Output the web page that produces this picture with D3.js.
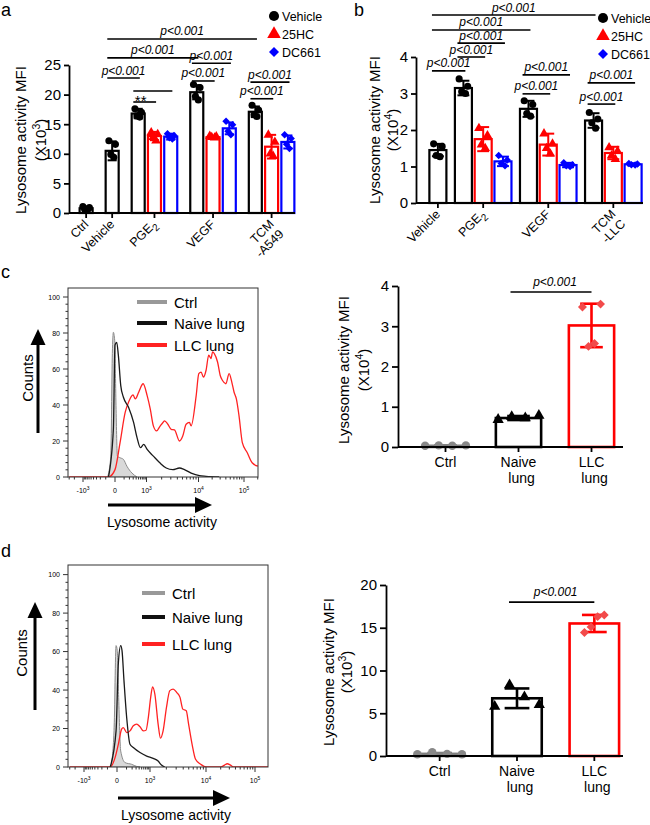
<!DOCTYPE html>
<html>
<head>
<meta charset="utf-8">
<script src="https://cdn.jsdelivr.net/npm/d3@7"></script>
<style>
  body { margin: 0; background: #fff; }
</style>
</head>
<body>
<script>
// ---------------- data ----------------

// panel a  (MFI x10^3)
const aGroups = ['Ctrl', 'Vehicle', 'PGE_2', 'VEGF', 'TCM|-A549'];
const aSeries = ['Vehicle', '25HC', 'DC661'];
const aTicks = [0, 5, 10, 15, 20, 25];
const aVehMean = [0.8, 10.5, 16.8, 20.4, 17.1];
const aVehSD = [0.3, 1.6, 0.8, 1.2, 0.9];
const aVehPts = [[1.1, 0.9, 0.6, 0.6], [12.2, 11.6, 9.9, 9.4], [17.6, 17.0, 16.4, 16.2], [21.7, 21.2, 19.7, 19.1], [18.2, 17.4, 16.6, 16.3]];
const a25Mean = [null, null, 13.0, 12.8, 11.2];
const a25SD = [null, null, 0.7, 0.15, 2.0];
const a25Pts = [null, null, [13.6, 13.3, 12.8, 12.2], [13.0, 12.9, 12.8, 12.7], [13.2, 12.0, 10.0, 9.6]];
const aDCMean = [null, null, 12.9, 14.3, 12.0];
const aDCSD = [null, null, 0.5, 1.0, 1.1];
const aDCPts = [null, null, [13.4, 13.1, 12.7, 12.5], [15.5, 14.9, 13.8, 13.2], [13.2, 12.6, 11.6, 10.9]];
// [group, series] of both ends, height in data units
const aBrackets = [
  { from: [1, 0], to: [4, 0], y: 29.4, label: 'p<0.001' },
  { from: [1, 0], to: [3, 0], y: 26.2, label: 'p<0.001' },
  { from: [3, 0], to: [3, 2], y: 25.3, label: 'p<0.001' },
  { from: [1, 0], to: [2, 0], y: 22.8, label: 'p<0.001' },
  { from: [3, 0], to: [3, 1], y: 22.3, label: 'p<0.001' },
  { from: [4, 0], to: [4, 2], y: 22.1, label: 'p<0.001' },
  { from: [4, 0], to: [4, 1], y: 19.3, label: 'p<0.001' },
  { from: [2, 0], to: [2, 2], y: 20.6, label: '' },
  { from: [2, 0], to: [2, 1], y: 18.75, label: '**' }
];

// panel b  (MFI x10^4)
const bGroups = ['Vehicle', 'PGE_2', 'VEGF', 'TCM|-LLC'];
const bTicks = [0, 1, 2, 3, 4];
const bVehMean = [1.45, 3.15, 2.58, 2.26];
const bVehSD = [0.17, 0.2, 0.22, 0.2];
const bVehPts = [[1.62, 1.55, 1.3, 1.27], [3.4, 3.2, 3.05, 3.0], [2.8, 2.7, 2.45, 2.38], [2.48, 2.3, 2.2, 2.05]];
const b25Mean = [null, 1.75, 1.6, 1.37];
const b25SD = [null, 0.33, 0.3, 0.17];
const b25Pts = [null, [2.05, 1.85, 1.6, 1.5], [1.9, 1.62, 1.5, 1.35], [1.52, 1.42, 1.3, 1.2]];
const bDCMean = [null, 1.14, 1.04, 1.06];
const bDCSD = [null, 0.13, 0.06, 0.03];
const bDCPts = [null, [1.3, 1.18, 1.08, 1.02], [1.1, 1.05, 1.02, 1.0], [1.08, 1.07, 1.05, 1.04]];
const bBrackets = [
  { from: [0, 0], to: [3, 0], y: 5.15, label: 'p<0.001' },
  { from: [0, 0], to: [2, 0], y: 4.74, label: 'p<0.001' },
  { from: [1, 0], to: [1, 2], y: 4.38, label: 'p<0.001' },
  { from: [1, 0], to: [1, 1], y: 4.0, label: 'p<0.001' },
  { from: [0, 0], to: [1, 0], y: 3.62, label: 'p<0.001' },
  { from: [2, 0], to: [2, 2], y: 3.51, label: 'p<0.001' },
  { from: [2, 0], to: [2, 1], y: 2.99, label: 'p<0.001' },
  { from: [3, 0], to: [3, 2], y: 3.29, label: 'p<0.001' },
  { from: [3, 0], to: [3, 1], y: 2.71, label: 'p<0.001' }
];

// histograms: [intensity, count]
const histTickVals = [-1000, 0, 1000, 10000, 100000];
const histTickLabels = [['-10', '3'], ['0', ''], ['10', '3'], ['10', '4'], ['10', '5']];
const histYTicks = [0, 20, 40, 60, 80, 100];
const histNames = ['Ctrl', 'Naive lung', 'LLC lung'];

const cCtrlCurve = [[-75, 0], [-37, 11.6], [-22, 68.6], [-13, 80.4], [-2, 75.7], [8, 39.6], [20, 11.6], [47, 10.7], [90, 9.8], [147, 6], [263, 2.2], [435, 0]];
const cNaiveCurve = [[-63, 0], [-13, 26.5], [0, 73.3], [14, 74.8], [29, 67.7], [55, 50.8], [90, 44.3], [180, 38.7], [312, 30.3], [435, 21.9], [592, 16.3], [793, 18.1], [1031, 15.3], [1374, 11.6], [1837, 7.9], [2450, 5], [3280, 4.1], [4383, 5], [5445, 4.1], [7280, 2.2], [10500, 0.75], [14700, 0.4], [28600, 0]];
const cLLCCurve = [[-3000, 0], [-63, 0], [0, 4.1], [47, 19.1], [117, 35.9], [180, 41.5], [293, 45.6], [370, 43.4], [507, 47.1], [751, 51.8], [1031, 45.2], [1190, 37.8], [1374, 28.4], [1592, 25.6], [1837, 28], [2120, 30.3], [2280, 31.2], [2635, 29.3], [3055, 26.5], [3526, 26.2], [4383, 20], [5060, 22.8], [5860, 29.3], [6760, 30.3], [7280, 28.4], [9050, 45.2], [10150, 57.4], [11430, 58.3], [12840, 55.5], [14700, 59.3], [16800, 67.7], [18850, 65.8], [20500, 69.5], [22300, 68.6], [26300, 63.9], [30100, 56.4], [33800, 53.6], [40000, 51.8], [47200, 57.4], [54000, 52.7], [60600, 47.1], [68000, 43.4], [77800, 34], [91900, 19.1], [118000, 13.5], [151000, 7.9], [201000, 6]];

const dCtrlCurve = [[-56, 0], [-24, 18.8], [-7, 63.1], [2, 60.5], [13, 36.2], [31, 8.3], [79, 2.3], [190, 1.4], [318, 0.3], [432, 0]];
const dNaiveCurve = [[-64, 0], [-7, 18.8], [10, 53.6], [31, 63.1], [44, 60.5], [66, 44.9], [102, 25.7], [157, 11.8], [227, 10.1], [432, 7.5], [765, 5.7], [1148, 4.5], [1417, 3.1], [1633, 1], [1874, 0]];
const dLLCCurve = [[-3000, 0], [-64, 0], [-15, 4.9], [10, 11.8], [40, 19.7], [58, 20.5], [102, 17.9], [157, 18.8], [227, 21.4], [318, 22.3], [432, 20.9], [578, 18.8], [722, 19.1], [873, 25.7], [1030, 36.2], [1119, 41.7], [1233, 37.9], [1417, 22.3], [1566, 15], [1748, 18.8], [2012, 31], [2311, 39.7], [2655, 40.5], [3055, 38.8], [3510, 36.2], [3933, 30.1], [4519, 29.2], [4970, 22.3], [5724, 11.8], [6577, 4], [8111, 1.4], [10000, 0], [19950, 0], [24000, 1], [27160, 1.7], [31600, 1], [36800, 0], [300000, 0]];

// panel c / d bar charts
const lungCats = ['Ctrl', 'Naive|lung', 'LLC|lung'];
const cTicks = [0, 1, 2, 3, 4];
const cMean = [0.03, 0.72, 3.02];
const cSD = [0.01, 0.05, 0.54];
const cPts = [[0.03, 0.04, 0.03, 0.04], [0.68, 0.75, 0.72, 0.78], [3.48, 2.5, 2.57, 3.55]];
const dTicks = [0, 5, 10, 15, 20];
const dMean = [0.25, 6.75, 15.5];
const dSD = [0.1, 1.15, 1.0];
const dPts = [[0.2, 0.45, 0.25, 0.2], [5.8, 8.3, 6.9, 6.0], [14.45, 15.1, 16.3, 16.5]];

// ---------------- drawing ----------------
const FONT = '"Liberation Sans", Arial, Helvetica, sans-serif';
const svg = d3.select('body').append('svg')
  .attr('width', 650).attr('height', 825)
  .style('font-family', FONT);
const defs = svg.append('defs');

const seriesColors = ['#000000', '#ff0000', '#0000ff'];
const seriesSymbols = [d3.symbolCircle, d3.symbolTriangle, d3.symbolSquare];
const seriesRot = [0, 0, 45];

// text with a superscript: base, sup, tail
function supText(t, base, sup, tail, size) {
  t.append('tspan').text(base);
  if (sup) {
    t.append('tspan').attr('font-size', size * 0.7).attr('dy', -size * 0.42).text(sup);
    t.append('tspan').attr('dy', size * 0.42).text(tail || '');
  }
}

function yTitle(g, x1, x2, yc, size, sup) {
  g.append('text').attr('transform', `translate(${x1},${yc}) rotate(-90)`)
    .attr('text-anchor', 'middle').attr('font-size', size).text('Lysosome activity MFI');
  const t = g.append('text').attr('transform', `translate(${x2},${yc}) rotate(-90)`)
    .attr('text-anchor', 'middle').attr('font-size', size);
  supText(t, '(X10', sup, ')', size);
}

function styleAxis(ax, size) {
  ax.attr('font-family', FONT).attr('font-size', size);
  ax.select('.domain').attr('stroke-width', 1.8);
  ax.selectAll('.tick line').attr('stroke-width', 1.8);
  ax.selectAll('.tick text').attr('fill', '#000');
}

function groupedChart(p) {
  const g = svg.append('g');
  const y = d3.scaleLinear().domain([0, p.yMax]).range([p.y0, p.yTop]);

  // one unit per bar, extra gap between groups
  const bars = [];
  let pos = -1;
  p.groups.forEach((grp, gi) => {
    let firstInGroup = true;
    p.series.forEach((s, si) => {
      const m = p.means[si][gi];
      if (m == null) return;
      pos += (firstInGroup && gi > 0) ? 1 + p.gap : 1;
      firstInGroup = false;
      bars.push({ gi, si, pos, mean: m, sd: p.sds[si][gi], pts: p.pts[si][gi] });
    });
  });
  const x = d3.scaleLinear().domain([-0.5, pos + 0.5]).range(p.xRange);
  const unit = x(1) - x(0);
  const bw = unit * p.barFrac;
  const cap = bw * 0.7;

  // bars
  g.selectAll('rect.bar').data(bars).join('rect')
    .attr('x', d => x(d.pos) - bw / 2).attr('y', d => y(d.mean))
    .attr('width', bw).attr('height', d => y(0) - y(d.mean))
    .attr('fill', '#fff').attr('stroke', d => seriesColors[d.si]).attr('stroke-width', 2.2);

  // error bars
  const eb = g.selectAll('g.err').data(bars).join('g')
    .attr('stroke', d => seriesColors[d.si]).attr('stroke-width', 2);
  eb.append('line').attr('x1', d => x(d.pos)).attr('x2', d => x(d.pos))
    .attr('y1', d => y(d.mean - d.sd)).attr('y2', d => y(d.mean + d.sd));
  eb.append('line').attr('x1', d => x(d.pos) - cap / 2).attr('x2', d => x(d.pos) + cap / 2)
    .attr('y1', d => y(d.mean + d.sd)).attr('y2', d => y(d.mean + d.sd));
  eb.append('line').attr('x1', d => x(d.pos) - cap / 2).attr('x2', d => x(d.pos) + cap / 2)
    .attr('y1', d => y(d.mean - d.sd)).attr('y2', d => y(d.mean - d.sd));

  // points
  const jit = [-0.25, 0.25, -0.1, 0.12];
  bars.forEach(b => {
    b.pts.forEach((v, i) => {
      g.append('path')
        .attr('d', d3.symbol().type(seriesSymbols[b.si]).size(b.si === 2 ? 28 : 40)())
        .attr('transform', `translate(${x(b.pos) + jit[i] * bw},${y(v)}) rotate(${seriesRot[b.si]})`)
        .attr('fill', seriesColors[b.si]);
    });
  });

  // y axis
  const ax = g.append('g').attr('transform', `translate(${p.axisX},0)`)
    .call(d3.axisLeft(y).tickValues(p.ticks).tickFormat(d3.format('d'))
      .tickSize(5).tickSizeOuter(0).tickPadding(3));
  styleAxis(ax, p.tickFont);
  // x axis line
  g.append('line').attr('x1', p.axisX).attr('x2', p.xEnd).attr('y1', y(0)).attr('y2', y(0))
    .attr('stroke', '#000').attr('stroke-width', 1.8);

  // group ticks + rotated labels
  p.groups.forEach((grp, gi) => {
    const gb = bars.filter(b => b.gi === gi);
    const cx = d3.mean(gb, b => x(b.pos));
    g.append('line').attr('x1', cx).attr('x2', cx).attr('y1', y(0)).attr('y2', y(0) + 5)
      .attr('stroke', '#000').attr('stroke-width', 1.8);
    const t = g.append('text').attr('transform', `translate(${cx + 3},${y(0) + 12}) rotate(-45)`)
      .attr('text-anchor', 'end').attr('font-size', 12.5);
    grp.split('|').forEach((line, li) => {
      const parts = line.split('_');
      t.append('tspan').attr('x', 0).attr('dy', li ? '1.1em' : 0).text(parts[0]);
      if (parts[1]) {
        t.append('tspan').attr('font-size', 10).attr('dy', 4).text(parts[1]);
      }
    });
  });

  // significance brackets
  const find = r => bars.find(b => b.gi === r[0] && b.si === r[1]);
  p.brackets.forEach(bk => {
    const x1 = x(find(bk.from).pos) - 0.3 * unit;
    const x2 = x(find(bk.to).pos) + 0.1 * unit;
    const yy = y(bk.y);
    g.append('line').attr('x1', x1).attr('x2', x2).attr('y1', yy).attr('y2', yy)
      .attr('stroke', '#000').attr('stroke-width', 1.6);
    if (bk.label === '**') {
      g.append('text').attr('x', (x1 + x2) / 2 - 4).attr('y', yy + 3.5).attr('text-anchor', 'middle')
        .attr('font-size', 15).text(bk.label);
    } else if (bk.label) {
      g.append('text').attr('x', (x1 + x2) / 2).attr('y', yy - 3.5).attr('text-anchor', 'middle')
        .attr('font-size', 12).attr('font-style', 'italic').text(bk.label);
    }
  });

  // legend
  p.series.forEach((s, si) => {
    g.append('path')
      .attr('d', d3.symbol().type(seriesSymbols[si]).size(si === 2 ? 50 : 80)())
      .attr('transform', `translate(${p.legendX},${p.legendY[si]}) rotate(${seriesRot[si]})`)
      .attr('fill', seriesColors[si]);
    g.append('text').attr('x', p.legendX + 8).attr('y', p.legendY[si] + 4.5)
      .attr('font-size', 12.5).text(s);
  });

  yTitle(g, p.titleX[0], p.titleX[1], p.titleY, 15, p.sup);
}

groupedChart({
  groups: aGroups, series: aSeries,
  means: [aVehMean, a25Mean, aDCMean], sds: [aVehSD, a25SD, aDCSD], pts: [aVehPts, a25Pts, aDCPts],
  yMax: 25, y0: 213, yTop: 65, ticks: aTicks, tickFont: 15,
  axisX: 69, xEnd: 295, xRange: [78, 296], gap: 0.6, barFrac: 0.8,
  brackets: aBrackets, legendX: 274, legendY: [16, 34, 52],
  titleX: [26, 46], titleY: 140, sup: '3'
});

groupedChart({
  groups: bGroups, series: aSeries,
  means: [bVehMean, b25Mean, bDCMean], sds: [bVehSD, b25SD, bDCSD], pts: [bVehPts, b25Pts, bDCPts],
  yMax: 4, y0: 203, yTop: 57, ticks: bTicks, tickFont: 15,
  axisX: 416, xEnd: 643, xRange: [428, 643], gap: 0.29, barFrac: 0.86,
  brackets: bBrackets, legendX: 603, legendY: [18, 36, 54],
  titleX: [380, 398], titleY: 130, sup: '4'
});

// ---------- flow histograms ----------
const symlog = v => Math.sign(v) * Math.log10(1 + Math.abs(v) / 100);

function histogram(p) {
  const g = svg.append('g');
  const xs = d3.scaleLinear().domain(histTickVals.map(symlog)).range(p.tickPx);
  const X = v => xs(symlog(v));
  const y = d3.scaleLinear().domain([0, 105]).range([p.bottom, p.top]);

  defs.append('clipPath').attr('id', p.id).append('rect')
    .attr('x', p.left).attr('y', p.top).attr('width', p.right - p.left).attr('height', p.bottom - p.top);
  const plot = g.append('g').attr('clip-path', `url(#${p.id})`);

  const line = d3.line().x(d => X(d[0])).y(d => y(d[1])).curve(d3.curveMonotoneX);
  const area = d3.area().x(d => X(d[0])).y0(y(0)).y1(d => y(d[1])).curve(d3.curveMonotoneX);
  plot.append('path').datum(p.ctrl).attr('d', area)
    .attr('fill', '#d9d9d9').attr('stroke', '#8c8c8c').attr('stroke-width', 1);
  plot.append('path').datum(p.llc).attr('d', line)
    .attr('fill', 'none').attr('stroke', '#ff2222').attr('stroke-width', 1.3);
  plot.append('path').datum(p.naive).attr('d', line)
    .attr('fill', 'none').attr('stroke', '#1a1a1a').attr('stroke-width', 1.3);

  g.append('rect').attr('x', p.left).attr('y', p.top)
    .attr('width', p.right - p.left).attr('height', p.bottom - p.top)
    .attr('fill', 'none').attr('stroke', '#333').attr('stroke-width', 1);

  // y ticks
  d3.range(0, 101, 4).forEach(v => {
    const major = v % 20 === 0;
    g.append('line').attr('x1', p.left).attr('x2', p.left - (major ? 5 : 2.5))
      .attr('y1', y(v)).attr('y2', y(v)).attr('stroke', '#333').attr('stroke-width', 1);
  });
  histYTicks.forEach(v => {
    g.append('text').attr('x', p.left - 8).attr('y', y(v) + 2.5).attr('text-anchor', 'end')
      .attr('font-size', 7).text(v);
  });

  // x ticks
  const minors = [-3000, -2000];
  for (let v = -900; v <= 900; v += 100) if (v !== 0) minors.push(v);
  [1e3, 1e4, 1e5].forEach(dec => { for (let k = 2; k <= 9; k++) minors.push(k * dec); });
  minors.filter(v => X(v) > p.left && X(v) < p.right).forEach(v => {
    g.append('line').attr('x1', X(v)).attr('x2', X(v)).attr('y1', p.bottom).attr('y2', p.bottom + 2.5)
      .attr('stroke', '#333').attr('stroke-width', 1);
  });
  histTickVals.forEach((v, i) => {
    g.append('line').attr('x1', X(v)).attr('x2', X(v)).attr('y1', p.bottom).attr('y2', p.bottom + 5)
      .attr('stroke', '#333').attr('stroke-width', 1);
    const t = g.append('text').attr('x', X(v)).attr('y', p.bottom + 16).attr('text-anchor', 'middle')
      .attr('font-size', 7);
    supText(t, histTickLabels[i][0], histTickLabels[i][1], '', 7);
  });

  // legend
  const lc = ['#999999', '#111111', '#ff2222'];
  histNames.forEach((n, i) => {
    g.append('line').attr('x1', p.legX[0]).attr('x2', p.legX[1])
      .attr('y1', p.legY[i]).attr('y2', p.legY[i]).attr('stroke', lc[i]).attr('stroke-width', 4);
    g.append('text').attr('x', p.legX[1] + 7).attr('y', p.legY[i] + 5.5).attr('font-size', 15).text(n);
  });

  // arrows + axis names
  const ar = p.upArrow;
  g.append('line').attr('x1', ar.x).attr('x2', ar.x).attr('y1', ar.y1).attr('y2', ar.y2 + 12)
    .attr('stroke', '#000').attr('stroke-width', 3);
  g.append('path').attr('d', `M${ar.x},${ar.y2} L${ar.x - 7.5},${ar.y2 + 16} L${ar.x + 7.5},${ar.y2 + 16} Z`);
  g.append('text').attr('transform', `translate(${p.countsX},${(ar.y1 + ar.y2) / 2 - 3}) rotate(-90)`)
    .attr('text-anchor', 'middle').attr('font-size', 15).text('Counts');

  const hr = p.rightArrow;
  g.append('line').attr('x1', hr.x1).attr('x2', hr.x2 - 12).attr('y1', hr.y).attr('y2', hr.y)
    .attr('stroke', '#000').attr('stroke-width', 3);
  g.append('path').attr('d', `M${hr.x2},${hr.y} L${hr.x2 - 17},${hr.y - 8} L${hr.x2 - 17},${hr.y + 8} Z`);
  g.append('text').attr('x', (hr.x1 + hr.x2) / 2 + 2).attr('y', hr.y + 22).attr('text-anchor', 'middle')
    .attr('font-size', 14).text('Lysosome activity');
}

histogram({
  id: 'clipC', left: 68, right: 258, top: 288, bottom: 477, tickPx: [83, 115, 146.5, 198.5, 244],
  ctrl: cCtrlCurve, naive: cNaiveCurve, llc: cLLCCurve,
  legX: [137, 167], legY: [302, 323, 345],
  upArrow: { x: 38, y1: 433, y2: 329 }, countsX: 33,
  rightArrow: { x1: 108, x2: 212, y: 505 }
});

histogram({
  id: 'clipD', left: 68, right: 268, top: 565, bottom: 767, tickPx: [84, 117, 150, 206, 255],
  ctrl: dCtrlCurve, naive: dNaiveCurve, llc: dLLCCurve,
  legX: [142, 165], legY: [593, 617, 644],
  upArrow: { x: 35, y1: 710, y2: 602 }, countsX: 27,
  rightArrow: { x1: 118, x2: 230, y: 798 }
});

// ---------- c / d bar charts ----------
const lungColors = ['#808080', '#000000', '#ff0000'];
const lungPtColors = ['#888888', '#000000', '#f24a4a'];
const lungSymbols = [d3.symbolCircle, d3.symbolTriangle, d3.symbolSquare];
const lungRot = [0, 0, 45];

function lungBars(p) {
  const g = svg.append('g');
  const y = d3.scaleLinear().domain([0, p.yMax]).range([p.y0, p.yTop]);
  const x = d3.scaleBand().domain(lungCats).range(p.xRange).paddingInner(p.pad).paddingOuter(p.pad / 2);
  const bw = x.bandwidth();
  const cx = c => x(c) + bw / 2;
  const rows = lungCats.map((c, i) => ({ c, i, mean: p.mean[i], sd: p.sd[i], pts: p.pts[i] }));

  g.selectAll('rect.bar').data(rows).join('rect')
    .attr('x', d => x(d.c)).attr('y', d => y(d.mean))
    .attr('width', bw).attr('height', d => y(0) - y(d.mean))
    .attr('fill', '#fff').attr('stroke', d => lungColors[d.i]).attr('stroke-width', 2.6);

  const cap = bw * 0.5;
  rows.forEach(d => {
    const e = g.append('g').attr('stroke', lungColors[d.i]).attr('stroke-width', 2.6);
    e.append('line').attr('x1', cx(d.c)).attr('x2', cx(d.c)).attr('y1', y(d.mean - d.sd)).attr('y2', y(d.mean + d.sd));
    [d.mean - d.sd, d.mean + d.sd].forEach(v => {
      e.append('line').attr('x1', cx(d.c) - cap / 2).attr('x2', cx(d.c) + cap / 2).attr('y1', y(v)).attr('y2', y(v));
    });
  });

  const spread = [0.45, 0.45, 0.2];
  const offs = [-1, -1 / 3, 1 / 3, 1];
  rows.forEach(d => {
    d.pts.forEach((v, k) => {
      g.append('path')
        .attr('d', d3.symbol().type(lungSymbols[d.i]).size(d.i === 2 ? 40 : 55)())
        .attr('transform', `translate(${cx(d.c) + offs[k] * spread[d.i] * bw},${y(v)}) rotate(${lungRot[d.i]})`)
        .attr('fill', lungPtColors[d.i]);
    });
  });

  const ax = g.append('g').attr('transform', `translate(${p.axisX},0)`)
    .call(d3.axisLeft(y).tickValues(p.ticks).tickFormat(d3.format('d'))
      .tickSize(6).tickSizeOuter(0).tickPadding(3));
  styleAxis(ax, p.tickFont);
  g.append('line').attr('x1', p.axisX).attr('x2', p.xEnd).attr('y1', y(0)).attr('y2', y(0))
    .attr('stroke', '#000').attr('stroke-width', 1.8);
  lungCats.forEach(c => {
    g.append('line').attr('x1', cx(c)).attr('x2', cx(c)).attr('y1', y(0)).attr('y2', y(0) + 5)
      .attr('stroke', '#000').attr('stroke-width', 1.8);
    const t = g.append('text').attr('text-anchor', 'middle').attr('font-size', 14);
    c.split('|').forEach((line, li) => {
      t.append('tspan').attr('x', cx(c) + (li ? 3 : 0)).attr('y', y(0) + 20 + li * 16).text(line);
    });
  });

  // p value
  const yy = y(p.bracketY);
  g.append('line').attr('x1', cx(lungCats[1]) - 8).attr('x2', cx(lungCats[2])).attr('y1', yy).attr('y2', yy)
    .attr('stroke', '#000').attr('stroke-width', 1.6);
  g.append('text').attr('x', (cx(lungCats[1]) + cx(lungCats[2])) / 2).attr('y', yy - 6)
    .attr('text-anchor', 'middle').attr('font-size', 12).attr('font-style', 'italic').text('p<0.001');

  yTitle(g, p.titleX[0], p.titleX[1], p.titleY, 15, p.sup);
}

lungBars({
  yMax: 4, y0: 447, yTop: 286, ticks: cTicks, tickFont: 15,
  mean: cMean, sd: cSD, pts: cPts,
  xRange: [409, 628], pad: 0.38, axisX: 398, xEnd: 623,
  bracketY: 3.85, titleX: [349, 369], titleY: 370, sup: '4'
});

lungBars({
  yMax: 20, y0: 756, yTop: 585, ticks: dTicks, tickFont: 15,
  mean: dMean, sd: dSD, pts: dPts,
  xRange: [401, 633], pad: 0.36, axisX: 386, xEnd: 623,
  bracketY: 18, titleX: [334, 352], titleY: 672, sup: '3'
});

// panel letters
[['a', 1, 16], ['b', 354, 16], ['c', 1, 278], ['d', 1, 557]].forEach(l => {
  svg.append('text').attr('x', l[1]).attr('y', l[2]).attr('font-size', 18).text(l[0]);
});
</script>
</body>
</html>
